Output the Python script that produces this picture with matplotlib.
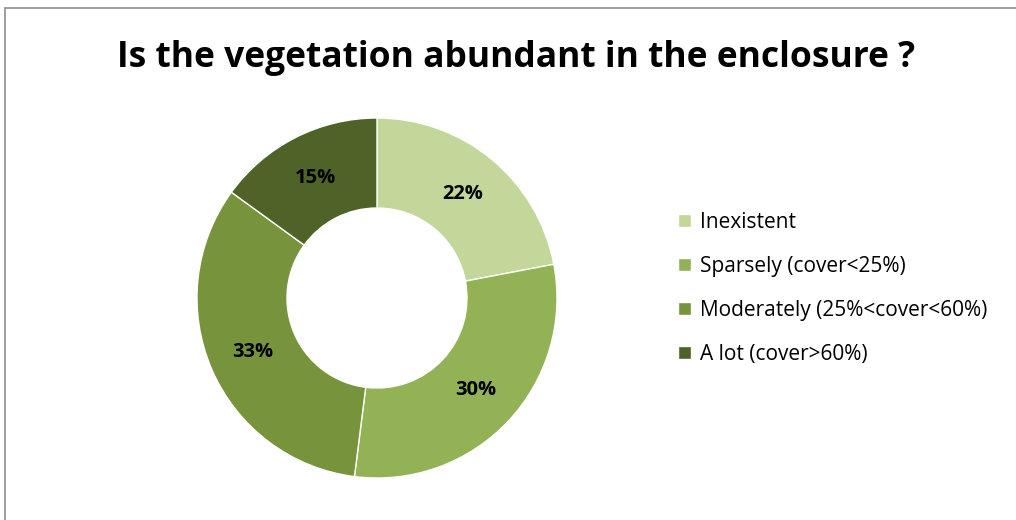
import matplotlib.pyplot as plt
from matplotlib.patches import Rectangle

categories = ['Inexistent', 'Sparsely (cover<25%)', 'Moderately (25%<cover<60%)', 'A lot (cover>60%)']
values = [22, 30, 33, 15]
colors = ['#C4D79B', '#93B255', '#77933C', '#4F6228']

plt.rcParams['font.family'] = ['Open Sans', 'DejaVu Sans']

fig = plt.figure(figsize=(10.16, 5.2), dpi=100)
W, H = 1016, 520

# chart frame
fig.patches.append(Rectangle((5 / W, -0.1), 1.2, (520 - 8) / H + 0.1, transform=fig.transFigure,
                             fill=False, edgecolor='#8c8c8c', linewidth=1.2))

cx, cy, r = 377, 298, 180
ax = fig.add_axes([(cx - r) / W, (H - cy - r) / H, 2 * r / W, 2 * r / H])
wedges, texts, autotexts = ax.pie(values, colors=colors, startangle=90, counterclock=False,
                                  radius=1, autopct='%d%%', pctdistance=0.75,
                                  wedgeprops=dict(width=0.5, edgecolor='white', linewidth=1),
                                  textprops=dict(fontsize=14.5, fontweight='bold', color='black'))
ax.set_xlim(-1, 1)
ax.set_ylim(-1, 1)
ax.set_aspect('equal')
ax.axis('off')

fig.text(516 / W, 1 - 58 / H, 'Is the vegetation abundant in the enclosure ?', ha='center', va='center',
         fontsize=25.5, fontweight='bold')

fig.legend(wedges, categories, loc='upper left', bbox_to_anchor=(678 / W, 1 - 212 / H), frameon=False,
           fontsize=15, handlelength=0.6, handleheight=0.6, handletextpad=0.45, labelspacing=1.1,
           borderpad=0, borderaxespad=0)

fig.savefig('out.png', dpi=100)
